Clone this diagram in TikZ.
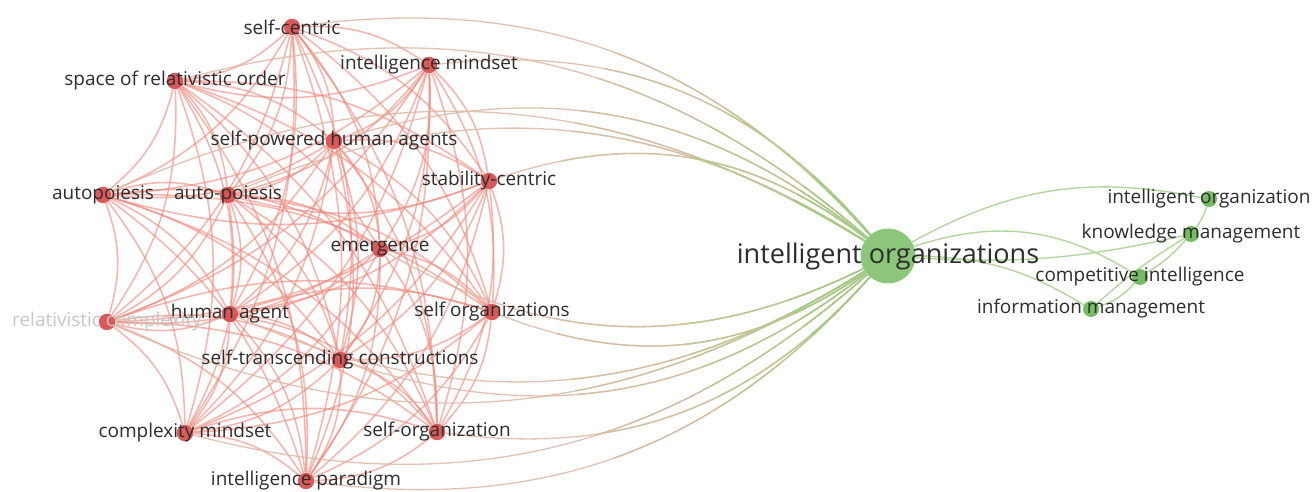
\documentclass[tikz,border=0pt]{standalone}
\usepackage{fontspec}
\setmainfont{Open Sans}
\usetikzlibrary{backgrounds}
\definecolor{nodered}{RGB}{214,72,72}
\definecolor{linkred}{RGB}{238,138,126}
\definecolor{nodegreen}{RGB}{118,188,98}
\definecolor{linkgreen}{RGB}{178,214,158}
\definecolor{linktan}{RGB}{222,184,166}
\definecolor{linkmidA}{RGB}{210,190,158}
\definecolor{linkmidB}{RGB}{190,200,148}
\definecolor{linkleaf}{RGB}{160,204,132}
\definecolor{labelgray}{RGB}{45,45,45}
\tikzset{
  rednode/.style={circle, fill=nodered, fill opacity=0.9, text opacity=1, inner sep=0pt, minimum size=0.33cm},
  greennode/.style={circle, fill=nodegreen, inner sep=0pt, minimum size=0.32cm},
  hubnode/.style={circle, fill=nodegreen!85!white, inner sep=0pt, minimum size=1.1cm},
  kw/.style={label={[text=labelgray, font=\fontsize{10.8}{12}\selectfont]center:#1}},
  redlink/.style={draw=linkred, line width=0.9pt, opacity=0.62},
  mixlink/.style={line width=0.75pt, opacity=0.85},
  greenlink/.style={draw=linkgreen, line width=0.8pt}
}
% links from every red keyword to the hub, in one colour
\newcommand{\hublinks}[1]{%
  \foreach \a in {selfcentric,mindset,space,powered,stability,autopoiesis,autopoiesisb}
    \draw[mixlink, draw=#1] (\a) to[bend left=28] (hub);
  \foreach \a in {emergence,humanagent,relcomplex,selforgs,transcend,complexmind,selforg,paradigm}
    \draw[mixlink, draw=#1] (\a) to[bend right=28] (hub);
}
\begin{document}
\begin{tikzpicture}[x=0.02cm, y=-0.02cm]
    \useasboundingbox (0,0) rectangle (1315,492);
    % red cluster
    \node[rednode, kw={self-centric}] (selfcentric) at (292,27) {};
    \node[rednode, kw={intelligence mindset}] (mindset) at (429,65) {};
    \node[rednode, kw={space of relativistic order}] (space) at (175,81) {};
    \node[rednode, kw={self-powered human agents}] (powered) at (334,141) {};
    \node[rednode, kw={stability-centric}] (stability) at (489,181) {};
    \node[rednode, kw={autopoiesis}] (autopoiesis) at (103,195) {};
    \node[rednode, kw={auto-poiesis}] (autopoiesisb) at (228,195) {};
    \node[rednode, kw={emergence}] (emergence) at (380,249) {};
    \node[rednode, kw={human agent}] (humanagent) at (230,314) {};
    \node[rednode, label={[text=black!22, font=\fontsize{10.8}{12}\selectfont]center:relativistic complexity}] (relcomplex) at (107,322) {};
    \node[rednode, kw={self organizations}] (selforgs) at (492,312) {};
    \node[rednode, kw={self-transcending constructions}] (transcend) at (340,360) {};
    \node[rednode, kw={complexity mindset}] (complexmind) at (185,433) {};
    \node[rednode, kw={self-organization}] (selforg) at (437,432) {};
    \node[rednode, kw={intelligence paradigm}] (paradigm) at (306,481) {};
    % green cluster
    \node[hubnode, label={[text=labelgray, font=\fontsize{15.4}{17}\selectfont]center:intelligent organizations}] (hub) at (888,256) {};
    \node[greennode, kw={intelligent organization}] (intorg) at (1209,199) {};
    \node[greennode, kw={knowledge management}] (knowmgmt) at (1191,234) {};
    \node[greennode, kw={competitive intelligence}] (compint) at (1140,277) {};
    \node[greennode, kw={information management}] (infomgmt) at (1091,309) {};

    \begin{scope}[on background layer]
    \fill[white] (0,0) rectangle (1315,492);
    \foreach \a [count=\i] in {selfcentric,mindset,space,powered,stability,autopoiesis,autopoiesisb,emergence,humanagent,relcomplex,selforgs,transcend,complexmind,selforg,paradigm} {
      \foreach \b [count=\j] in {selfcentric,mindset,space,powered,stability,autopoiesis,autopoiesisb,emergence,humanagent,relcomplex,selforgs,transcend,complexmind,selforg,paradigm} {
        \ifnum\j>\i \draw[redlink] (\a) to[bend left=18] (\b); \fi
      }
    }
    % tan far from the hub, greener close to it
    \hublinks{linktan}
    \begin{scope}
      \clip (hub) circle (340);
      \hublinks{linkmidA}
    \end{scope}
    \begin{scope}
      \clip (hub) circle (220);
      \hublinks{linkmidB}
    \end{scope}
    \begin{scope}
      \clip (hub) circle (110);
      \hublinks{linkleaf}
    \end{scope}
    \draw[greenlink] (hub) to[bend left=20] (intorg);
    \draw[greenlink] (hub) to[bend left=25] (compint);
    \draw[greenlink] (hub) to[bend right=8] (knowmgmt);
    \draw[greenlink] (hub) to[bend left=15] (infomgmt);
    \draw[greenlink] (knowmgmt) to[bend right=5] (infomgmt);
    \draw[greenlink] (knowmgmt) to[bend left=8] (compint);
    \draw[greenlink] (compint) to[bend left=15] (infomgmt);
    \draw[greenlink] (intorg) to[bend left=10] (knowmgmt);
    \end{scope}
\end{tikzpicture}
\end{document}
